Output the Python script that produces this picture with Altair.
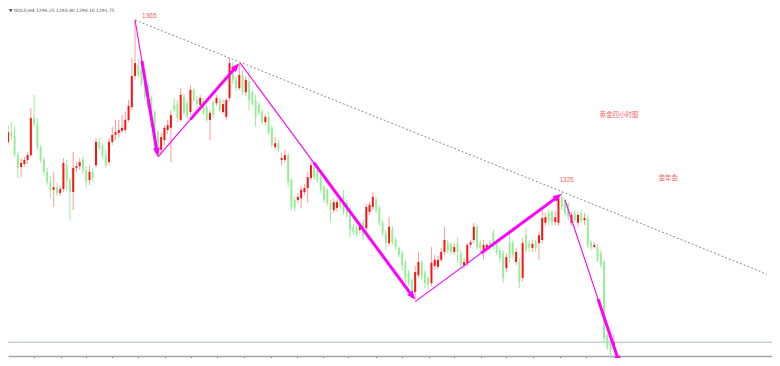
import math
import altair as alt
import pandas as pd

# ---------------- data (GOLD H4) ----------------
opens = [1337.3, 1339.5, 1338.6, 1334.3, 1331.6, 1332.3, 1333.2, 1334.3, 1342.7, 1341.4,
         1336.1, 1333.2, 1330.5, 1328.2, 1326.4, 1327.0, 1325.7, 1326.6, 1332.0, 1328.6,
         1325.9, 1331.4, 1331.8, 1333.2, 1330.9, 1328.6, 1330.5, 1332.0, 1337.3, 1336.4,
         1334.3, 1332.7, 1337.3, 1338.9, 1339.3, 1339.8, 1340.0, 1342.3, 1345.2, 1352.3,
         1354.8, 1354.1, 1352.5, 1350.2, 1347.3, 1344.1, 1339.5, 1335.5, 1337.7, 1340.0,
         1340.5, 1345.7, 1345.9, 1342.3, 1347.5, 1346.1, 1344.1, 1349.1, 1346.8, 1345.7,
         1346.8, 1345.2, 1342.3, 1346.4, 1346.1, 1346.8, 1344.1, 1343.0, 1347.3, 1354.8,
         1351.4, 1349.5, 1352.5, 1348.6, 1350.9, 1348.6, 1346.8, 1345.7, 1344.1, 1341.8,
         1343.0, 1340.5, 1336.1, 1337.0, 1333.2, 1333.2, 1334.3, 1328.6, 1324.1, 1324.1,
         1324.5, 1325.9, 1326.8, 1329.1, 1331.6, 1330.9, 1329.3, 1327.0, 1326.4, 1323.4,
         1321.8, 1322.3, 1324.1, 1324.8, 1323.4, 1321.8, 1318.0, 1317.7, 1317.3, 1318.9,
         1317.7, 1321.4, 1322.5, 1324.1, 1322.3, 1318.9, 1316.6, 1314.3, 1317.3, 1315.0,
         1313.2, 1312.0, 1309.8, 1307.5, 1305.9, 1303.2, 1307.0, 1309.8, 1307.5, 1306.4,
         1305.2, 1309.1, 1308.9, 1310.5, 1312.3, 1314.3, 1313.9, 1312.3, 1314.3, 1312.0,
         1309.3, 1309.8, 1313.9, 1315.0, 1318.0, 1314.3, 1312.7, 1313.2, 1314.5, 1316.6,
         1314.3, 1312.7, 1312.0, 1308.6, 1314.5, 1314.3, 1310.0, 1310.0, 1306.4, 1316.1,
         1314.3, 1313.2, 1314.5, 1314.3, 1315.0, 1318.9, 1321.1, 1321.4, 1319.1, 1318.9,
         1324.8, 1324.1, 1323.2, 1318.9, 1321.1, 1318.9, 1321.1, 1319.5, 1320.0, 1314.5,
         1313.4, 1313.4, 1312.0, 1310.0, 1293.4, 1292.3, 1290.25]
highs = [1341.1, 1341.8, 1340.7, 1335.0, 1333.6, 1333.9, 1335.0, 1345.0, 1348.0, 1342.7,
         1336.6, 1333.9, 1331.4, 1329.5, 1330.5, 1328.0, 1327.3, 1333.6, 1333.2, 1329.3,
         1335.0, 1332.7, 1333.6, 1334.1, 1331.8, 1332.0, 1331.4, 1338.2, 1338.2, 1337.0,
         1335.5, 1338.2, 1340.7, 1342.3, 1342.3, 1343.4, 1344.1, 1346.8, 1356.4, 1365.0,
         1356.4, 1355.0, 1353.2, 1350.7, 1347.7, 1344.5, 1340.0, 1339.3, 1341.1, 1342.3,
         1344.5, 1347.3, 1346.8, 1349.5, 1348.2, 1346.8, 1350.2, 1349.5, 1347.7, 1348.0,
         1347.3, 1345.7, 1344.5, 1346.8, 1348.0, 1347.3, 1346.8, 1347.3, 1356.4, 1355.5,
         1352.3, 1355.2, 1353.6, 1352.3, 1353.6, 1349.1, 1348.0, 1346.4, 1344.8, 1343.6,
         1344.1, 1341.1, 1338.4, 1337.7, 1334.8, 1335.5, 1334.8, 1329.1, 1324.8, 1325.7,
         1327.3, 1327.7, 1330.5, 1333.2, 1332.5, 1331.6, 1329.8, 1327.5, 1326.8, 1324.1,
         1324.5, 1324.3, 1324.8, 1326.4, 1324.1, 1322.5, 1318.6, 1318.4, 1319.1, 1319.5,
         1323.2, 1323.6, 1325.9, 1324.8, 1323.0, 1319.5, 1317.3, 1320.2, 1318.2, 1315.7,
         1313.6, 1312.7, 1310.5, 1308.2, 1306.4, 1309.1, 1312.3, 1310.5, 1308.2, 1306.8,
         1313.4, 1311.6, 1311.4, 1313.2, 1318.0, 1315.0, 1314.5, 1314.3, 1315.5, 1312.7,
         1310.9, 1314.3, 1315.0, 1318.9, 1318.4, 1315.0, 1315.0, 1314.3, 1315.0, 1317.3,
         1315.0, 1313.4, 1312.7, 1312.0, 1317.3, 1315.0, 1313.2, 1310.9, 1315.5, 1317.7,
         1315.0, 1315.0, 1315.0, 1316.8, 1322.3, 1321.1, 1321.8, 1321.8, 1321.6, 1325.0,
         1326.0, 1324.5, 1323.6, 1321.4, 1321.8, 1321.4, 1321.8, 1321.1, 1320.7, 1315.0,
         1314.5, 1314.1, 1312.7, 1310.5, 1293.9, 1292.7, 1293.40]
lows = [1336.6, 1337.7, 1333.9, 1329.1, 1329.3, 1331.6, 1332.3, 1333.9, 1340.7, 1335.5,
        1332.5, 1329.8, 1327.5, 1324.5, 1322.5, 1325.0, 1325.0, 1325.9, 1326.4, 1319.5,
        1321.8, 1330.5, 1330.9, 1330.0, 1326.8, 1327.5, 1328.2, 1331.4, 1335.5, 1333.6,
        1331.4, 1332.0, 1336.6, 1337.7, 1338.2, 1339.3, 1339.3, 1341.8, 1344.5, 1351.4,
        1351.8, 1350.0, 1346.8, 1344.5, 1342.3, 1335.5, 1333.9, 1334.3, 1336.6, 1339.1,
        1332.7, 1344.1, 1341.8, 1341.8, 1343.2, 1342.5, 1343.4, 1346.4, 1345.0, 1344.5,
        1343.4, 1341.8, 1337.7, 1342.7, 1345.5, 1344.1, 1343.6, 1342.3, 1346.6, 1350.5,
        1348.9, 1349.1, 1348.0, 1347.7, 1344.5, 1345.5, 1340.7, 1343.2, 1341.4, 1341.1,
        1338.9, 1335.9, 1335.5, 1335.0, 1332.0, 1332.5, 1327.0, 1321.8, 1321.6, 1323.4,
        1322.3, 1325.2, 1323.4, 1328.6, 1328.6, 1328.0, 1325.7, 1323.4, 1322.7, 1318.9,
        1321.1, 1321.4, 1322.0, 1320.7, 1320.0, 1315.5, 1316.1, 1315.7, 1316.6, 1315.0,
        1317.0, 1320.7, 1321.8, 1321.1, 1318.2, 1315.9, 1312.7, 1313.6, 1313.9, 1312.7,
        1310.9, 1308.0, 1305.2, 1304.5, 1301.8, 1301.4, 1306.4, 1305.9, 1304.1, 1303.6,
        1304.5, 1308.2, 1308.2, 1310.0, 1311.6, 1312.0, 1311.6, 1311.6, 1309.8, 1308.6,
        1308.6, 1309.1, 1313.2, 1314.3, 1312.7, 1312.3, 1310.5, 1312.7, 1312.7, 1312.7,
        1311.6, 1310.0, 1305.2, 1307.7, 1309.8, 1310.9, 1309.3, 1304.1, 1305.5, 1312.0,
        1312.3, 1312.3, 1312.3, 1310.5, 1314.3, 1318.2, 1318.4, 1318.4, 1318.4, 1318.2,
        1321.8, 1320.5, 1319.5, 1318.2, 1319.1, 1318.0, 1318.9, 1318.4, 1313.2, 1312.7,
        1313.0, 1310.0, 1308.6, 1291.8, 1290.0, 1288.2, 1290.10]
closes = [1339.5, 1338.6, 1334.3, 1331.4, 1332.5, 1333.2, 1334.3, 1342.7, 1341.4, 1336.1,
          1333.2, 1330.5, 1328.2, 1326.4, 1327.0, 1325.7, 1326.6, 1332.5, 1328.6, 1325.9,
          1331.4, 1331.8, 1332.7, 1330.9, 1328.2, 1330.5, 1329.1, 1337.3, 1335.9, 1334.3,
          1332.0, 1337.3, 1338.9, 1339.5, 1340.0, 1340.5, 1342.3, 1345.5, 1352.3, 1355.2,
          1352.5, 1350.7, 1347.5, 1345.2, 1343.0, 1336.1, 1335.5, 1338.4, 1340.5, 1341.1,
          1343.4, 1344.5, 1342.7, 1348.0, 1343.9, 1343.0, 1349.1, 1346.8, 1345.9, 1347.3,
          1343.9, 1342.3, 1343.9, 1343.4, 1347.3, 1344.5, 1345.9, 1346.8, 1355.2, 1351.4,
          1349.5, 1352.5, 1348.6, 1351.4, 1346.8, 1346.1, 1343.0, 1343.9, 1341.8, 1343.0,
          1339.3, 1336.6, 1337.0, 1335.5, 1333.6, 1334.3, 1328.2, 1322.5, 1322.3, 1324.8,
          1326.4, 1326.8, 1329.3, 1332.0, 1329.3, 1328.6, 1326.4, 1324.1, 1323.4, 1321.8,
          1323.6, 1323.6, 1322.7, 1321.4, 1320.9, 1317.3, 1316.8, 1316.4, 1318.4, 1316.1,
          1322.5, 1323.0, 1324.8, 1321.8, 1318.9, 1316.6, 1314.3, 1318.0, 1314.5, 1313.4,
          1311.6, 1309.3, 1306.4, 1305.2, 1303.0, 1307.7, 1310.0, 1306.6, 1305.2, 1304.8,
          1309.8, 1310.5, 1310.5, 1312.3, 1315.0, 1312.7, 1312.3, 1313.4, 1312.3, 1309.3,
          1310.0, 1313.9, 1314.5, 1318.0, 1313.4, 1313.2, 1313.9, 1313.9, 1313.2, 1313.4,
          1312.3, 1310.9, 1306.4, 1311.1, 1310.9, 1311.6, 1312.3, 1305.5, 1314.3, 1312.7,
          1313.2, 1314.1, 1313.2, 1316.1, 1320.0, 1320.2, 1319.5, 1319.1, 1320.2, 1324.5,
          1322.5, 1321.1, 1320.2, 1320.7, 1319.5, 1320.7, 1319.5, 1320.0, 1313.9, 1313.4,
          1313.9, 1310.5, 1309.3, 1292.7, 1290.7, 1290.0, 1291.75]

symbol_name = "GOLD,H4"

# time-axis tick positions (in bar units)
tick_bars = [7.9, 16.1, 23.9, 31.8, 40.0, 48.2, 56.1, 64.2, 72.4, 80.6, 88.8, 96.7,
             104.5, 113.0, 120.9, 129.1, 137.0, 145.2, 153.0, 161.2, 169.4, 177.6, 184.8]

# swing labels
pivot_label_bars = [39, 170]
pivot_label_prices = [1365.0, 1326.0]
pivot_labels = ["1365", "1326"]

# free notes
note_texts = ["黄金四小时图", "金年会"]
note_bars = [187.6, 202.7]
note_prices = [1343.3, 1329.2]

# dotted resistance line through the two highs
trend_bars = [39, 170]
trend_prices = [1365.0, 1326.0]

# magenta swing arrows
arrow_from_bar = [39, 46, 71.3, 125, 171]
arrow_from_price = [1365.0, 1333.9, 1355.2, 1301.0, 1324.1]
arrow_to_bar = [46, 71, 125, 170, 187.9]
arrow_to_price = [1333.9, 1355.2, 1301.4, 1325.5, 1286.6]

# ---------------- layout / style ----------------
W, H = 764, 348
X_DOMAIN = [1.515, 233.03]
Y_DOMAIN = [1288.64, 1367.73]
PX_BAR = W / (X_DOMAIN[1] - X_DOMAIN[0])
PX_PRICE = H / (Y_DOMAIN[1] - Y_DOMAIN[0])
thick_start_frac = [0.3, 0.4, 0.42, 0.45, 0.6]
MAGENTA = "#ff00ff"
LABEL_RED = "#f26464"

xscale = alt.Scale(domain=X_DOMAIN, nice=False, zero=False)
yscale = alt.Scale(domain=Y_DOMAIN, nice=False, zero=False)
xaxis = alt.Axis(values=tick_bars, labels=False, title=None, grid=False,
                 domainColor="#a4a4a4", domainWidth=1.5, tickColor="#7a7a7a",
                 tickSize=2, tickWidth=1)


def X(field):
    return alt.X(field, type="quantitative", scale=xscale, axis=xaxis)


def Y(field):
    return alt.Y(field, type="quantitative", scale=yscale, axis=None)


candles = pd.DataFrame({
    "bar": list(range(len(closes))),
    "open": opens, "high": highs, "low": lows, "close": closes,
})
candles["dir"] = ["up" if c >= o else "down" for o, c in zip(opens, closes)]
candles["wdir"] = candles["dir"]

wicks = alt.Chart(candles).mark_rule(strokeWidth=1).encode(
    x=X("bar"), y=Y("low"), y2="high",
    color=alt.Color("wdir:N", scale=alt.Scale(domain=["up", "down"],
                                               range=["#ff9a9a", "#9bec9b"]), legend=None),
)
bodies = alt.Chart(candles).mark_bar(size=2).encode(
    x=X("bar"), y=Y("open"), y2="close",
    color=alt.Color("dir:N", scale=alt.Scale(domain=["up", "down"],
                                              range=["#ff1212", "#98ee98"]), legend=None),
)

# trend line, extended to the right edge
slope = (trend_prices[1] - trend_prices[0]) / (trend_bars[1] - trend_bars[0])
trend_df = pd.DataFrame({
    "x": [trend_bars[0]], "y": [trend_prices[0]],
    "x2": [X_DOMAIN[1]], "y2": [trend_prices[0] + slope * (X_DOMAIN[1] - trend_bars[0])],
})
trend = alt.Chart(trend_df).mark_rule(strokeDash=[2, 2], strokeWidth=1, color="#8a8a8a").encode(
    x=X("x"), y=Y("y"), x2="x2", y2="y2")

# current price line
last_df = pd.DataFrame({"price": [closes[-1]]})
last_line = alt.Chart(last_df).mark_rule(color="#c9d0d7", strokeWidth=1.5).encode(y=Y("price"))

# arrows
thin_rows, thick_rows, head_rows = [], [], []
for fb, fp, tb, tp, fr in zip(arrow_from_bar, arrow_from_price, arrow_to_bar,
                              arrow_to_price, thick_start_frac):
    dxp = (tb - fb) * PX_BAR
    dyp = (tp - fp) * PX_PRICE
    length = math.hypot(dxp, dyp)
    back = 4.0 / length
    ex, ey = tb - back * (tb - fb), tp - back * (tp - fp)
    thin_rows.append({"x": fb, "y": fp, "x2": ex, "y2": ey})
    thick_rows.append({"x": fb + fr * (tb - fb), "y": fp + fr * (tp - fp), "x2": ex, "y2": ey})
    ang = math.degrees(math.atan2(dxp, dyp)) % 360
    head_rows.append({"x": tb, "y": tp, "angle": ang})

thin = alt.Chart(pd.DataFrame(thin_rows)).mark_rule(color=MAGENTA, strokeWidth=1.1).encode(
    x=X("x"), y=Y("y"), x2="x2", y2="y2")
thick = alt.Chart(pd.DataFrame(thick_rows)).mark_rule(color=MAGENTA, strokeWidth=3).encode(
    x=X("x"), y=Y("y"), x2="x2", y2="y2")
heads = alt.Chart(pd.DataFrame(head_rows)).mark_point(
    shape="M0,0L-0.9,2.4L0.9,2.4Z", filled=True, size=56, color=MAGENTA, opacity=1, strokeWidth=0
).encode(x=X("x"), y=Y("y"), angle=alt.Angle("angle:Q", scale=None))

# labels
lab_df = pd.DataFrame({"x": pivot_label_bars, "y": pivot_label_prices, "t": pivot_labels})
lab1 = alt.Chart(lab_df.iloc[[0]]).mark_text(
    align="left", baseline="middle", dx=7, dy=-4, fontSize=6.5, font="Liberation Sans",
    color=LABEL_RED).encode(x=X("x"), y=Y("y"), text="t:N")
lab2 = alt.Chart(lab_df.iloc[[1]]).mark_text(
    align="center", baseline="middle", dx=5, dy=-12, fontSize=6.5, font="Liberation Sans",
    color=LABEL_RED).encode(x=X("x"), y=Y("y"), text="t:N")

notes_df = pd.DataFrame({"x": note_bars, "y": note_prices, "t": note_texts})
notes = alt.Chart(notes_df).mark_text(
    align="center", baseline="middle", fontSize=6.5, font="Noto Sans CJK SC",
    color=LABEL_RED).encode(x=X("x"), y=Y("y"), text="t:N")

header_text = "\u25bc {} {:.2f} {:.2f} {:.2f} {:.2f}".format(
    symbol_name, opens[-1], highs[-1], lows[-1], closes[-1])
header = alt.Chart(pd.DataFrame({"t": [header_text]})).mark_text(
    align="left", baseline="top", fontSize=4.5, font="DejaVu Sans", color="#505050"
).encode(x=alt.value(1), y=alt.value(0), text="t:N")

chart = alt.layer(
    last_line, wicks, bodies, trend, thin, thick, heads, lab1, lab2, notes, header
).resolve_scale(color="independent").properties(
    width=W, height=H,
    autosize=alt.AutoSizeParams(type="none"),
    padding={"left": 0, "top": 0, "right": 0, "bottom": 2},
    background="white",
).configure_view(stroke=None)

chart.save("out.html", embed_options={"renderer": "svg", "actions": False})
